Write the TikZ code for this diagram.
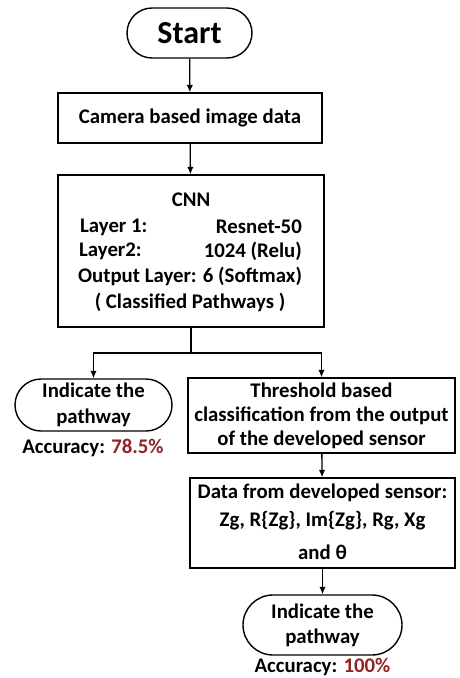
\documentclass[tikz,border=0pt]{standalone}
\usepackage{fontspec}
\setmainfont{Carlito}
\usetikzlibrary{shapes.misc,arrows.meta}
\definecolor{accred}{RGB}{145,35,35}
\tikzset{
  box/.style={draw, line width=1.4pt, rectangle, inner sep=0pt},
  pill/.style={draw, line width=1.4pt, rounded rectangle, inner sep=0pt},
  txt/.style={font=\fontsize{20.8}{24}\selectfont\bfseries, inner sep=0pt},
  conn/.style={line width=1.3pt},
  arr/.style={conn, -{Latex[length=7.5pt,width=6.5pt]}}
}
\begin{document}
\begin{tikzpicture}[x=1pt,y=-1pt]
\useasboundingbox (0,0) rectangle (459,678);
% shapes
\node[pill, minimum width=125pt, minimum height=50pt, font=\fontsize{32}{36}\selectfont\bfseries] (start) at (189.5,33) {Start};
\node[box, minimum width=264pt, minimum height=50pt, txt] (cam) at (190,118) {Camera based image data};
\node[box, minimum width=266pt, minimum height=152pt] (cnn) at (191,251) {};
\node[pill, minimum width=157pt, minimum height=52pt, txt, align=center] (left) at (93.5,405) {Indicate the\\[2pt]pathway};
\node[box, minimum width=267pt, minimum height=75pt, txt, align=center] (thr) at (321.5,415.5) {Threshold based\\classification from the output\\of the developed sensor};
\node[box, minimum width=265pt, minimum height=90pt] (data) at (322.5,523) {};
\node[pill, minimum width=159pt, minimum height=60pt, txt, align=center] (bot) at (322.5,625) {Indicate the\\[1pt]pathway};
% CNN text
\node[txt] (cnnt) at (191,200) {CNN};
\node[txt, anchor=west] (l1a) at (80,227) {Layer 1:};
\node[txt, anchor=east] (l1b) at (302,227) {Resnet-50};
\node[txt, anchor=west] (l2a) at (79,251) {Layer2:};
\node[txt, anchor=east] (l2b) at (302,251) {1024 (Relu)};
\node[txt] (l3) at (190,276) {Output Layer: 6 (Softmax)};
\node[txt] (l4) at (190,302) {( Classified Pathways )};
% data text
\node[txt] (d1) at (322.5,493) {Data from developed sensor:};
\node[txt] (d2) at (322.5,521) {Zg, R\{Zg\}, Im\{Zg\}, Rg, Xg};
\node[txt] (d3) at (322.5,552) {and θ};
% accuracy labels
\node[txt] (acc1) at (93,448) {Accuracy: \textcolor{accred}{78.5\%}};
\node[txt] (acc2) at (322.5,667) {Accuracy: \textcolor{accred}{100\%}};
% connectors
\coordinate (br) at (cnn.south |- 0,353);
\draw[arr] (start) -- (cam);
\draw[arr] (cam) -- (cnn);
\draw[conn] (cnn.south) -- (br);
\draw[arr] (br) -| (left.north);
\draw[arr] (br) -| (thr.north);
\draw[arr] (thr) -- (data);
\draw[arr] (data) -- (bot);
\end{tikzpicture}
\end{document}
